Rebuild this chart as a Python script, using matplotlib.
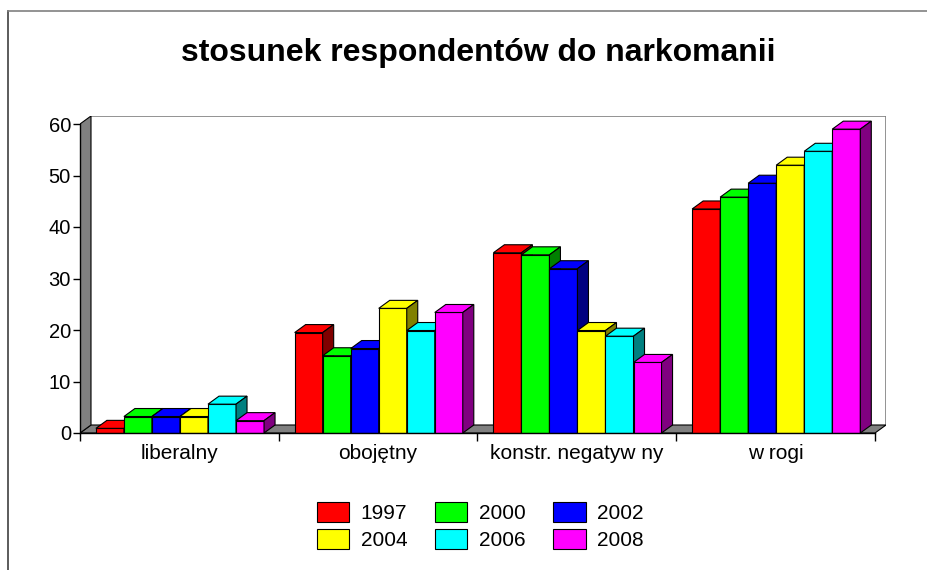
import matplotlib.pyplot as plt
from matplotlib.patches import Polygon
from matplotlib.lines import Line2D

plt.rcParams['font.family'] = ['Liberation Sans', 'DejaVu Sans']

# dane
kategorie = ['liberalny', 'obojętny', 'konstr. negatyw ny', 'w rogi']
lata = ['1997', '2000', '2002', '2004', '2006', '2008']
w1997 = [0.9, 19.5, 35.0, 43.5]
w2000 = [3.2, 15.0, 34.6, 45.8]
w2002 = [3.2, 16.4, 31.9, 48.5]
w2004 = [3.2, 24.2, 19.9, 52.0]
w2006 = [5.6, 19.9, 18.8, 54.7]
w2008 = [2.4, 23.4, 13.7, 59.0]
serie = [w1997, w2000, w2002, w2004, w2006, w2008]

kolory = ['#ff0000', '#00ff00', '#0000ff', '#ffff00', '#00ffff', '#ff00ff']
boki = ['#800000', '#008000', '#000080', '#808000', '#008080', '#800080']

# uklad w pikselach
W, H = 928, 570
x0_px, x4_px = 80, 875     # krawedzie osi x (0 i 4 kategorie)
y0_px, y60_px = 433, 124   # 0 i 60 na osi y
gl_x, gl_y = 11, 8         # glebokosc 3D w pikselach

ux = (x4_px - x0_px) / 4.0
uy = (y0_px - y60_px) / 60.0
dx = gl_x / ux
dy = gl_y / uy

fig = plt.figure(figsize=(W / 100, H / 100), dpi=100)
ax = fig.add_axes([x0_px / W, (H - y0_px) / H,
                   (x4_px + gl_x - x0_px) / W, (y0_px - y60_px + gl_y) / H])
ax.set_xlim(0, 4 + dx)
ax.set_ylim(0, 60 + dy)

szary = '#808080'
lw = 0.8

# sciany i podloga
ax.add_patch(Polygon([(0, 0), (4, 0), (4 + dx, dy), (dx, dy)],
                     facecolor=szary, edgecolor='black', lw=lw, zorder=0.5))
ax.add_patch(Polygon([(0, 0), (0, 60), (dx, 60 + dy), (dx, dy)],
                     facecolor=szary, edgecolor='black', lw=lw, zorder=0.5))
ax.plot([dx, 4 + dx, 4 + dx], [60 + dy, 60 + dy, dy], color=szary, lw=1.2, zorder=0.4)

bw = 0.141
for j, (wart, kol, bok) in enumerate(zip(serie, kolory, boki)):
    xs = [c + 0.503 + (j - 2.5) * bw for c in range(len(kategorie))]
    ax.bar(xs, wart, bw, color=kol, edgecolor='black', lw=lw, label=lata[j])
    for x, h in zip(xs, wart):
        xa, xb = x - bw / 2, x + bw / 2
        ax.add_patch(Polygon([(xa, h), (xa + dx, h + dy), (xb + dx, h + dy), (xb, h)],
                             facecolor=kol, edgecolor='black', lw=lw))
        ax.add_patch(Polygon([(xb, 0), (xb + dx, dy), (xb + dx, h + dy), (xb, h)],
                             facecolor=bok, edgecolor='black', lw=lw))

# osie
for s in ['top', 'right']:
    ax.spines[s].set_visible(False)
ax.spines['left'].set_bounds(0, 60)
ax.spines['bottom'].set_bounds(0, 4)
ax.spines['left'].set_linewidth(1.0)
ax.spines['bottom'].set_linewidth(1.0)
ax.set_yticks(range(0, 61, 10))
ax.tick_params(axis='y', direction='out', length=5, width=1, pad=1.5, labelsize=14.5)
ax.set_xticks([0, 1, 2, 3, 4])
ax.set_xticklabels([])
ax.set_xticks([0.5, 1.5, 2.5, 3.5], minor=True)
ax.set_xticklabels(kategorie, minor=True)
ax.tick_params(axis='x', which='major', direction='out', length=6, width=1)
ax.tick_params(axis='x', which='minor', length=0, pad=8, labelsize=15)

fig.text(478 / W, 1 - 53 / H, 'stosunek respondentów do narkomanii',
         ha='center', va='center', fontsize=23, fontweight='bold')

# ramka
fig.add_artist(Line2D([8 / W, 8 / W], [0, 1 - 11 / H], transform=fig.transFigure,
                      color='#404040', lw=1.2))
fig.add_artist(Line2D([8 / W, 1], [1 - 11 / H, 1 - 11 / H], transform=fig.transFigure,
                      color='#808080', lw=1.2))

# legenda wierszami
uchwyty, etykiety = ax.get_legend_handles_labels()
kolej = [0, 3, 1, 4, 2, 5]
fig.legend([uchwyty[i] for i in kolej], [etykiety[i] for i in kolej], ncol=3,
           loc='upper left', bbox_to_anchor=(317 / W, 1 - 502 / H), frameon=False,
           fontsize=15, handlelength=1.55, handleheight=1.1, handletextpad=0.55,
           columnspacing=1.33, labelspacing=0.3, borderpad=0, borderaxespad=0)

fig.savefig('out.png', dpi=100)
